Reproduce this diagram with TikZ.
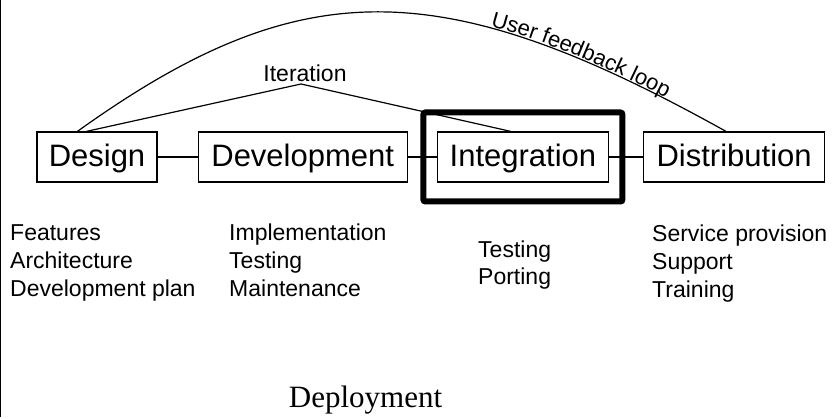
\documentclass[tikz,border=0pt]{standalone}
\usepackage{fontspec}
\setmainfont{Liberation Sans}
\newfontfamily\deployfont{Liberation Serif}
\usetikzlibrary{positioning}
\usetikzlibrary{calc}
\usetikzlibrary{decorations.text}
\tikzset{stage/.style = {draw, line width = 1.2, inner sep = 0, minimum height = 50, text height = 22, text depth = 2, font = \fontsize{31}{37}\selectfont}}
\tikzset{note/.style = {align = left, inner sep = 0, anchor = base west, font = \fontsize{23}{28}\selectfont}}

\begin{document}
\begin{tikzpicture}[x = 1pt, y = -1pt]
    \useasboundingbox (0, 0) rectangle (837, 419);
    \draw [line width = 1.3] (0.7, 0) -- (0.7, 417);

    \node [stage, minimum width = 120] (design) at (97, 157) {Design};
    \node [stage, minimum width = 209, right = 40pt of design] (devel) {Development};
    \node [stage, minimum width = 171, right = 29pt of devel] (integ) {Integration};
    \node [stage, minimum width = 181, right = 34pt of integ] (distrib) {Distribution};
    \node [draw, line width = 6, rounded corners = 2, minimum width = 199, minimum height = 89] (focus) at (integ) {};

    \draw [line width = 1.2] (design) -- (devel);
    \draw [line width = 1.2] (devel) -- (integ);
    \draw [line width = 1.2] (integ) -- (distrib);

    \node [inner sep = 0, font = \fontsize{23}{28}\selectfont] (iter) at (305, 73) {Iteration};
    \coordinate (iterpeak) at (301, 84);
    \draw [line width = 1.2] ($(design.north west) + (50, 0)$) -- (iterpeak) -- ($(integ.north west) + (74, 0)$);

    \draw [line width = 1.2, postaction = {decorate, decoration = {text along path, raise = 1.5pt,
            text = {|\fontsize{22}{27}\selectfont|User feedback loop}, text align = {align = right, right indent = 69pt}}}]
        ($(design.north west) + (41, 0)$) .. controls (300, -28) and (440, -28) .. ($(distrib.north west) + (83, 0)$);

    \node [note] (designnotes) at (10, 297) {Features\\Architecture\\Development plan};
    \node [note] (develnotes) at (229, 297) {Implementation\\Testing\\Maintenance};
    \node [note] (integnotes) at (478, 285) {Testing\\Porting};
    \node [note] (distribnotes) at (652, 298) {Service provision\\Support\\Training};

    \node [inner sep = 0, anchor = base, font = \deployfont\fontsize{31}{37}\selectfont] (deploy) at (365.5, 407) {Deployment};
  \end{tikzpicture}
\end{document}
